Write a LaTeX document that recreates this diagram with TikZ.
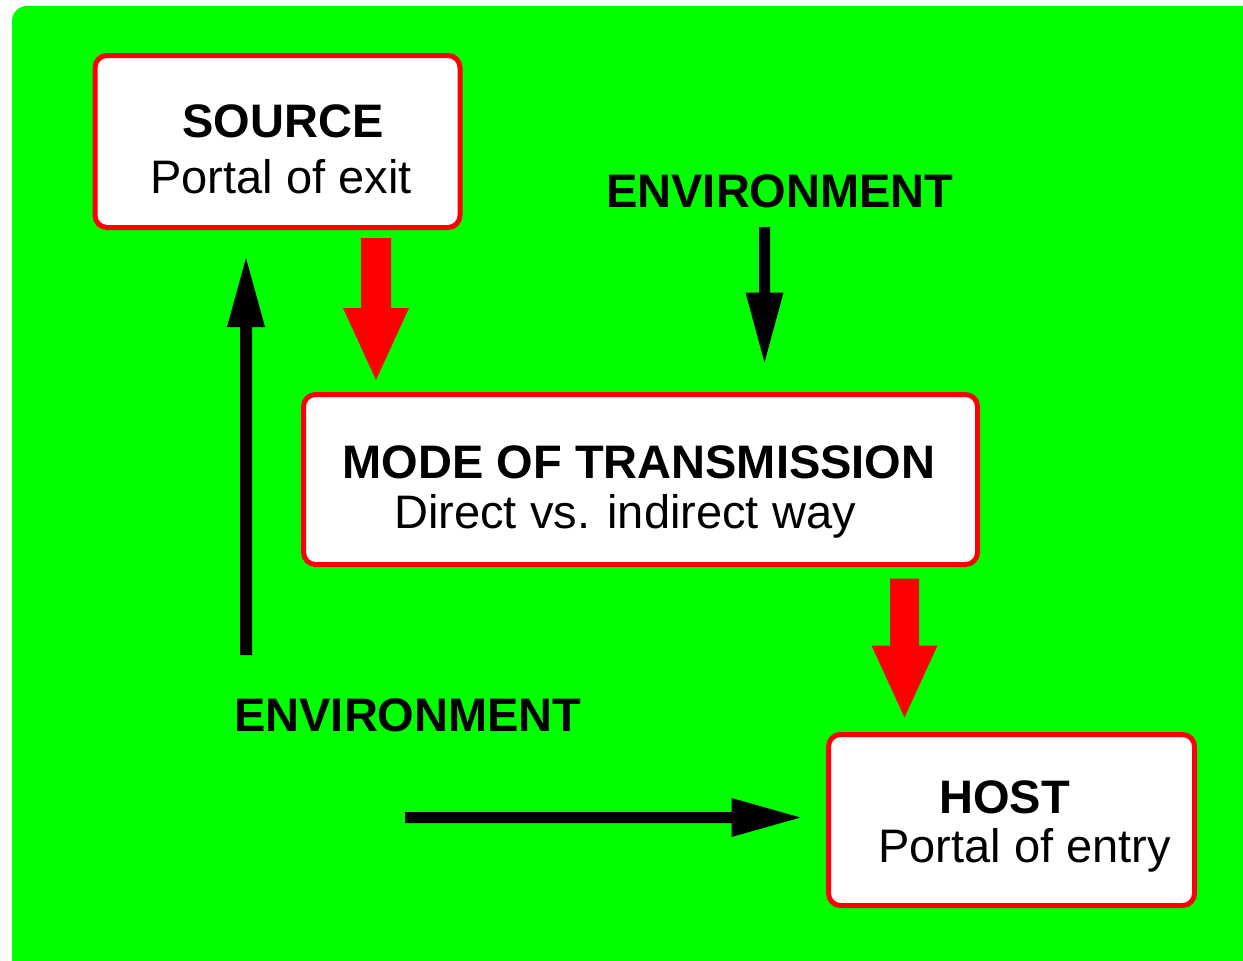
\documentclass[tikz,border=0pt]{standalone}
\usepackage{fontspec}
\setmainfont{Liberation Sans}
\usetikzlibrary{calc}

% block arrow from tail #1 to tip #2: half shaft #3, half head #4, head length #5, colour #6
\newcommand\fatarrow[6]{%
  \coordinate (hb) at ($(#2)!#5!(#1)$);
  \fill[#6] ($(#1)!#3!90:(#2)$) -- ($(hb)!#3!90:(#2)$) -- ($(hb)!#4!90:(#2)$)
    -- (#2) -- ($(hb)!#4!-90:(#2)$) -- ($(hb)!#3!-90:(#2)$)
    -- ($(#1)!#3!-90:(#2)$) -- cycle;
}

\definecolor{bg}{RGB}{0,255,0}
\definecolor{rim}{RGB}{255,0,0}

\tikzset{
  box/.style={draw=rim, line width=5pt, fill=white, rounded corners=12pt,
    rectangle, inner sep=0pt},
  head/.style={anchor=base, inner sep=0pt, font=\fontsize{47}{56}\selectfont\bfseries},
  sub/.style={anchor=base, inner sep=0pt, font=\fontsize{47}{56}\selectfont},
}

\begin{document}
\begin{tikzpicture}[x=1pt, y=-1pt]
  \useasboundingbox (0,0) rectangle (1243,961);

  % green panel
  \fill[bg] (1243,961) -- (12,961) [rounded corners=15pt]-- (12,6) [sharp corners]-- (1243,6) -- cycle;

  % boxes
  \node[box, minimum width=365pt, minimum height=172pt] (source) at (277.5,141.5) {};
  \node[box, minimum width=674pt, minimum height=170pt] (mode) at (640.5,479.5) {};
  \node[box, minimum width=366pt, minimum height=171pt] (host) at (1011.5,820) {};

  % box texts
  \node[head] (srcT) at (283,137) {SOURCE};
  \node[sub]  (srcS) at (281,193) {Portal of exit};
  \node[head] (modeT) at (639,478) {MODE OF TRANSMISSION};
  \node[sub]  (modeS) at (625,528) {Direct vs. indirect way};
  \node[head] (hostT) at (1004.5,813) {HOST};
  \node[sub]  (hostS) at (1024.5,862) {Portal of entry};

  % environment labels
  \node[head] (envTop) at (780,207) {ENVIRONMENT};
  \node[head] (envBot) at (408,731) {ENVIRONMENT};

  % arrow end points
  \coordinate (a1) at ($(source.south)+(98.5,8)$);
  \coordinate (b1) at ($(mode.north)+(-264.5,-12)$);
  \coordinate (a2) at ($(mode.south)+(264,11.5)$);
  \coordinate (b2) at ($(host.north)+(-107,-14.5)$);
  \coordinate (a3) at (764.5,227);
  \coordinate (b3) at ($(mode.north)+(124,-29.5)$);
  \coordinate (a4) at (246,655);
  \coordinate (b4) at ($(source.south)+(-31.5,28)$);
  \coordinate (a5) at (405,817.5);
  \coordinate (b5) at ($(host.west)+(-25.5,-2.5)$);

  % red transmission chain
  \fatarrow{a1}{b1}{15pt}{33pt}{72pt}{rim}
  \fatarrow{a2}{b2}{14.5pt}{33pt}{72pt}{rim}

  % black environment influences
  \fatarrow{a3}{b3}{5.5pt}{19pt}{70pt}{black}
  \fatarrow{a4}{b4}{6pt}{19pt}{69pt}{black}
  \fatarrow{a5}{b5}{5.5pt}{19.5pt}{69pt}{black}
\end{tikzpicture}
\end{document}
